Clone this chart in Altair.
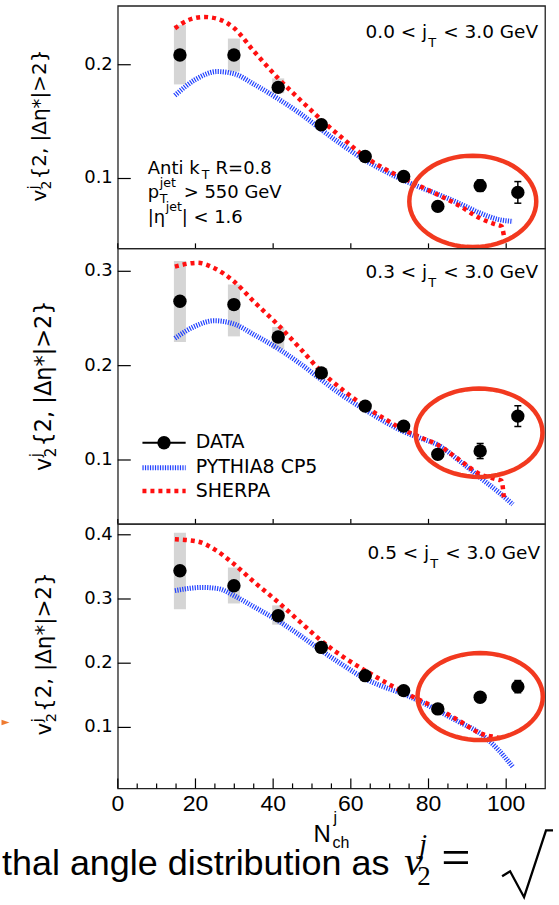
import math
import altair as alt
import pandas as pd

# ---------------- data ----------------
NCH = [16.0, 29.9, 41.3, 52.4, 63.7, 73.6, 82.4, 93.3, 103.0]

DATA_1 = [0.2086, 0.2086, 0.1801, 0.1472, 0.1193, 0.1018, 0.0755, 0.0937, 0.0878]
STAT_1 = [0.002, 0.002, 0.002, 0.002, 0.002, 0.003, 0.004, 0.005, 0.0095]
SYSLO_1 = [0.1827, 0.1940, 0.1750, 0.1440, 0.1170, 0.1000, 0.0740, 0.0920, 0.0860]
SYSHI_1 = [0.2348, 0.2230, 0.1880, 0.1500, 0.1210, 0.1030, 0.0770, 0.0950, 0.0890]

DATA_2 = [0.2682, 0.2647, 0.2304, 0.1923, 0.1571, 0.1359, 0.1060, 0.1095, 0.1465]
STAT_2 = [0.002, 0.002, 0.002, 0.002, 0.002, 0.003, 0.005, 0.008, 0.011]
SYSLO_2 = [0.225, 0.231, 0.218, 0.187, 0.154, 0.133, 0.104, 0.107, 0.143]
SYSHI_2 = [0.311, 0.286, 0.241, 0.197, 0.160, 0.139, 0.108, 0.112, 0.150]

DATA_3 = [0.3439, 0.3206, 0.2739, 0.2246, 0.1806, 0.1573, 0.1288, 0.1470, 0.1635]
STAT_3 = [0.002, 0.002, 0.002, 0.003, 0.003, 0.004, 0.005, 0.007, 0.0095]
SYSLO_3 = [0.284, 0.293, 0.260, 0.218, 0.176, 0.153, 0.125, 0.143, 0.159]
SYSHI_3 = [0.403, 0.349, 0.290, 0.231, 0.185, 0.162, 0.133, 0.151, 0.168]

SHERPA_X_1 = [14.7, 18, 22.2, 26, 30, 35, 41.3, 47, 52.4, 58, 63.7, 69, 73.6, 78, 82.4, 88, 93.3, 97, 98.8, 99.4]
SHERPA_Y_1 = [0.232, 0.239, 0.242, 0.240, 0.232, 0.212, 0.188, 0.169, 0.1515, 0.135, 0.119, 0.108, 0.1003, 0.093, 0.0857, 0.076, 0.065, 0.060, 0.058, 0.050]
PYTHIA_X_1 = [14.7, 20, 25.6, 30, 35, 41.3, 47, 52.4, 58, 63.7, 69, 73.6, 78, 82.4, 88, 93.3, 98, 101.7]
PYTHIA_Y_1 = [0.173, 0.187, 0.194, 0.192, 0.183, 0.170, 0.157, 0.143, 0.129, 0.116, 0.106, 0.0985, 0.092, 0.0862, 0.078, 0.0696, 0.064, 0.0623]

SHERPA_X_2 = [14.7, 20.5, 25, 30, 35, 41.3, 47, 52.4, 58, 63.7, 69, 73.6, 78, 82.4, 88, 93.3, 97, 98.8, 99.4]
SHERPA_Y_2 = [0.305, 0.309, 0.303, 0.289, 0.268, 0.243, 0.218, 0.1937, 0.174, 0.1566, 0.143, 0.132, 0.124, 0.116, 0.100, 0.0849, 0.080, 0.078, 0.060]
PYTHIA_X_2 = [14.7, 20, 24.8, 30, 35, 41.3, 47, 52.4, 58, 63.7, 69, 73.6, 78, 82.4, 88, 93.3, 98, 101.7]
PYTHIA_Y_2 = [0.229, 0.242, 0.2476, 0.244, 0.233, 0.218, 0.202, 0.185, 0.168, 0.153, 0.140, 0.130, 0.123, 0.116, 0.099, 0.0813, 0.066, 0.053]

SHERPA_X_3 = [14.7, 20.5, 25, 30, 35, 41.3, 47, 52.4, 58, 63.7, 69, 73.6, 78, 82.4, 88, 93.3, 97, 98.8]
SHERPA_Y_3 = [0.393, 0.3896, 0.377, 0.354, 0.327, 0.295, 0.264, 0.235, 0.210, 0.1885, 0.170, 0.155, 0.142, 0.129, 0.110, 0.0907, 0.085, 0.083]
PYTHIA_X_3 = [14.7, 21.8, 26, 30, 35, 41.3, 47, 52.4, 58, 63.7, 69, 73.6, 78, 82.4, 88, 93.3, 98, 101.7]
PYTHIA_Y_3 = [0.313, 0.318, 0.316, 0.305, 0.288, 0.266, 0.243, 0.2196, 0.197, 0.1756, 0.162, 0.152, 0.140, 0.126, 0.108, 0.0907, 0.065, 0.0386]

JT_LOW = ["0.0", "0.3", "0.5"]
Y_DOMAINS = [[0.0386, 0.2518], [0.0323, 0.3243], [0.005, 0.417]]
Y_TICKS = [[0.1, 0.2], [0.1, 0.2, 0.3], [0.1, 0.2, 0.3, 0.4]]
X_MAJOR = [0, 20, 40, 60, 80, 100]
X_MINOR = [5, 10, 15, 25, 30, 35, 45, 50, 55, 65, 70, 75, 85, 90, 95, 105]
ELLIPSE_X = [91.4, 93.0, 93.3]
ELLIPSE_Y = [0.0799, 0.1289, 0.148]

# ---------------- style ----------------
W = 428
HEIGHTS = [243, 276, 265]
RED = "#ff1010"
BLUE = "#2040ff"
ORANGE = "#f2391f"
SANS = "DejaVu Sans"
HELV = "Liberation Sans"
SERIF = "Liberation Serif"
ONE = pd.DataFrame({"k": [0]})
XS = alt.Scale(domain=[0, 110], nice=False, zero=False)


def ellipse_path(ratio, n=64):
    pts = [(math.cos(2 * math.pi * i / n), ratio * math.sin(2 * math.pi * i / n)) for i in range(n)]
    return "M " + " L ".join(f"{a:.4f} {b:.4f}" for a, b in pts) + " Z"


def txt(s, x, y, size, font=SANS, align="left", angle=0, dx=0, dy=0, style=None, color="black"):
    kw = dict(text=s, align=align, baseline="alphabetic", font=font, fontSize=size, color=color)
    if angle:
        kw["angle"] = angle
    if dx:
        kw["dx"] = dx
    if dy:
        kw["dy"] = dy
    if style:
        kw["fontStyle"] = style
    return alt.Chart(ONE).mark_text(**kw).encode(x=alt.value(x), y=alt.value(y))


def ytitle(start_y, base_x, fs):
    sub = fs * 0.68
    vw = 0.592 * fs
    return [
        txt("v", base_x, start_y, fs, angle=270),
        txt("j", base_x, start_y, sub, angle=270, dx=vw + 0.5, dy=-0.42 * fs),
        txt("2", base_x, start_y, sub, angle=270, dx=vw + 0.5, dy=0.24 * fs),
        txt("{2, |\u0394\u03b7*|>2}", base_x, start_y, fs, angle=270, dx=vw + 0.636 * sub + 1.5),
    ]


def header(lo, tx, yb):
    return [
        txt(f"{lo} < j", tx - 1, yb, 18.5, align="right"),
        txt("T", tx, yb + 9, 13),
        txt("< 3.0 GeV", tx + 15, yb, 18.5),
    ]


def panel(i, data, stat, slo, shi, sx, sy, px, py, ratio, ell_size, extras, xaxis):
    h = HEIGHTS[i]
    ys = alt.Scale(domain=Y_DOMAINS[i], nice=False, zero=False)
    df = pd.DataFrame({"x": NCH, "y": data, "slo": slo, "shi": shi})
    df["lo"] = [d - s for d, s in zip(data, stat)]
    df["hi"] = [d + s for d, s in zip(data, stat)]
    df["x1"] = df["x"] - 1.55
    df["x2"] = df["x"] + 1.55
    df["c1"] = df["x"] - 0.9
    df["c2"] = df["x"] + 0.9
    base = alt.Chart(df)
    X = lambda f: alt.X(f, scale=XS, axis=None)
    Y = lambda f: alt.Y(f, scale=ys, axis=None)

    boxes = base.mark_rect(color="#d5d5d5").encode(x=X("x1:Q"), x2="x2:Q", y=Y("slo:Q"), y2="shi:Q")
    pyth = alt.Chart(pd.DataFrame({"x": px, "y": py})).mark_line(
        color=BLUE, strokeWidth=5, strokeDash=[1.2, 1.3], interpolate="monotone"
    ).encode(x=X("x:Q"), y=Y("y:Q"))
    sher = alt.Chart(pd.DataFrame({"x": sx, "y": sy})).mark_line(
        color=RED, strokeWidth=4.5, strokeDash=[4, 4], interpolate="monotone"
    ).encode(x=X("x:Q"), y=Y("y:Q"))
    err = base.mark_rule(color="black", strokeWidth=1.5).encode(x=X("x:Q"), y=Y("lo:Q"), y2="hi:Q")
    caps = base.transform_fold(["lo", "hi"], as_=["k", "v"]).mark_rule(color="black", strokeWidth=1.5).encode(
        x=X("c1:Q"), x2="c2:Q", y=Y("v:Q")
    )
    pts = base.mark_point(filled=True, shape="circle", size=180, color="black", opacity=1).encode(
        x=X("x:Q"), y=Y("y:Q")
    )
    ell = alt.Chart(pd.DataFrame({"x": [ELLIPSE_X[i]], "y": [ELLIPSE_Y[i]]})).mark_point(
        shape=ellipse_path(ratio), size=ell_size, filled=False, color=ORANGE, strokeWidth=4.5, opacity=1
    ).encode(x=X("x:Q"), y=Y("y:Q"))

    ydf = pd.DataFrame({"v": Y_TICKS[i], "lab": [f"{v:.1f}" for v in Y_TICKS[i]]})
    yt = alt.Chart(ydf).mark_rule(color="black", strokeWidth=1.2).encode(
        y=Y("v:Q"), x=alt.value(0), x2=alt.value(13)
    )
    ylab = alt.Chart(ydf).mark_text(
        align="right", baseline="middle", font=SANS, fontSize=18, color="black"
    ).encode(y=Y("v:Q"), x=alt.value(-5), text="lab:N")

    layers = [boxes, pyth, sher, err, caps, pts, ell, yt, ylab]
    xdf = pd.DataFrame({"v": X_MAJOR, "lab": [str(v) for v in X_MAJOR]})
    if xaxis:
        xmaj = alt.Chart(xdf).mark_rule(color="black", strokeWidth=1.2).encode(
            x=X("v:Q"), y=alt.value(h), y2=alt.value(h - 10)
        )
        xmin = alt.Chart(pd.DataFrame({"v": X_MINOR})).mark_rule(color="black", strokeWidth=1.2).encode(
            x=X("v:Q"), y=alt.value(h), y2=alt.value(h - 5)
        )
        xlab = alt.Chart(xdf).mark_text(
            align="center", baseline="top", font=HELV, fontSize=23, color="black"
        ).encode(x=X("v:Q"), y=alt.value(h + 5), text="lab:N")
        layers += [xmaj, xmin, xlab]
    else:
        xmaj = alt.Chart(xdf).mark_rule(color="black", strokeWidth=1.2).encode(
            x=X("v:Q"), y=alt.value(h), y2=alt.value(h - 5)
        )
        layers += [xmaj]
    layers += extras
    return alt.layer(*layers).properties(width=W, height=h)


# ---------------- annotations ----------------
extras1 = header(JT_LOW[0], 311, 32.7) + ytitle(196, -72, 20) + [
    txt("Anti k", 30, 169, 18),
    txt("T", 84, 174, 12.6),
    txt("R=0.8", 98, 169, 18),
    txt("p", 30, 193, 18),
    txt("jet", 42, 182, 12.6),
    txt("T", 42, 198, 12.6),
    txt("> 550 GeV", 66, 193, 18),
    txt("|\u03b7", 30, 218, 18),
    txt("jet", 48, 206, 12.6),
    txt("| < 1.6", 64, 218, 18),
]

leg_x1, leg_x2 = 24.7, 68
extras2 = header(JT_LOW[1], 311, 29.7) + ytitle(223, -67, 22.5) + [
    alt.Chart(ONE).mark_rule(color="black", strokeWidth=2).encode(
        x=alt.value(leg_x1), x2=alt.value(leg_x2), y=alt.value(194.7)
    ),
    alt.Chart(ONE).mark_point(filled=True, shape="circle", size=180, color="black", opacity=1).encode(
        x=alt.value(46.3), y=alt.value(194.7)
    ),
    alt.Chart(ONE).mark_rule(color=BLUE, strokeWidth=5, strokeDash=[1.2, 1.3]).encode(
        x=alt.value(leg_x1), x2=alt.value(leg_x2), y=alt.value(219.7)
    ),
    alt.Chart(ONE).mark_rule(color=RED, strokeWidth=4.5, strokeDash=[4, 4]).encode(
        x=alt.value(leg_x1), x2=alt.value(leg_x2), y=alt.value(243)
    ),
    txt("DATA", 78, 199.7, 19),
    txt("PYTHIA8 CP5", 78, 224.7, 19),
    txt("SHERPA", 78, 249, 19),
]

radical = "M -0.56 0.2 L -0.4 0.1 L -0.12 0.62 L 0.32 -0.72 L 0.46 -0.72"
arrow = "M -1 -0.7 L 1 0 L -1 0.7 Z"
extras3 = header(JT_LOW[2], 313, 35.3) + ytitle(212, -67, 21.5) + [
    txt("N", 196, 319, 24, font=HELV),
    txt("j", 216, 300, 16, font=HELV),
    txt("ch", 215, 325, 16, font=HELV),
    txt("thal angle distribution as", -116, 352, 36, font=HELV),
    txt("v", 287, 352, 42, font=SERIF, style="italic"),
    txt("j", 302, 330, 28, font=SERIF, style="italic"),
    txt("2", 300, 362, 27, font=SERIF),
    txt("=", 324, 352, 52, font=SERIF),
    alt.Chart(ONE).mark_point(shape=radical, size=10000, filled=False, color="black", strokeWidth=2.3, opacity=1).encode(
        x=alt.value(413), y=alt.value(343)
    ),
    alt.Chart(ONE).mark_point(shape=arrow, size=64, filled=True, color="#ee7a30", opacity=1).encode(
        x=alt.value(-112.5), y=alt.value(199)
    ),
]

p1 = panel(0, DATA_1, STAT_1, SYSLO_1, SYSHI_1, SHERPA_X_1, SHERPA_Y_1, PYTHIA_X_1, PYTHIA_Y_1, 0.72, 16180, extras1, False)
p2 = panel(1, DATA_2, STAT_2, SYSLO_2, SYSHI_2, SHERPA_X_2, SHERPA_Y_2, PYTHIA_X_2, PYTHIA_Y_2, 0.696, 16180, extras2, False)
p3 = panel(2, DATA_3, STAT_3, SYSLO_3, SYSHI_3, SHERPA_X_3, SHERPA_Y_3, PYTHIA_X_3, PYTHIA_Y_3, 0.695, 15750, extras3, True)

chart = (
    alt.vconcat(p1, p2, p3, spacing=0, bounds="flush")
    .properties(padding={"left": 0, "top": 4, "right": 0, "bottom": 0}, autosize=alt.AutoSizeParams(type="pad"))
    .configure_view(stroke="#222222", strokeWidth=1.3)
)

chart.save("out.html", embed_options={"renderer": "svg", "actions": False})
